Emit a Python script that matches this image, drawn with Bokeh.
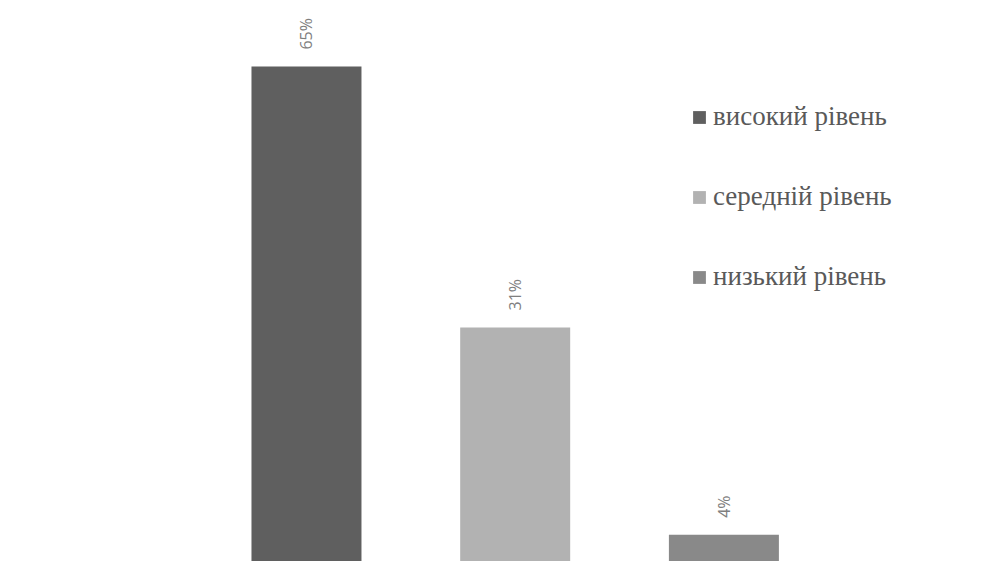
from bokeh.plotting import figure
from bokeh.models import ColumnDataSource, Range1d, LabelSet, Legend, LegendItem
from bokeh.core.properties import value
from bokeh.embed import file_html
from bokeh.resources import INLINE

levels = ["високий рівень", "середній рівень", "низький рівень"]
values = [65, 31, 4]
labels = ["65%", "31%", "4%"]
colors = ["#5f5f5f", "#b2b2b2", "#898989"]

src = ColumnDataSource(dict(x=[0, 1, 2], top=values, level=levels,
                            color=colors, label=labels))

p = figure(width=1006, height=561, output_backend="svg", toolbar_location=None,
           x_range=Range1d(-1.466, 3.354), y_range=Range1d(0.52, 73.6),
           min_border=0, outline_line_color=None)
p.axis.visible = False
p.grid.visible = False
p.background_fill_color = "white"

r = p.vbar(x="x", top="top", bottom=0, width=0.527, fill_color="color",
           line_color=None, source=src)

lbl = LabelSet(x="x", y="top", text="label", source=src, angle=1.5708,
               text_align="left", text_baseline="middle", y_offset=17,
               text_font=value("Open Sans"), text_font_size=value("16px"),
               text_color=value("#7f7f7f"))
p.add_layout(lbl)

items = [LegendItem(label=levels[i], renderers=[r], index=i) for i in range(3)]
legend = Legend(items=items, location=(691, 269), glyph_width=16, glyph_height=16,
                label_text_font="Liberation Serif", label_text_font_size="27px",
                label_text_color="#595959", spacing=49, padding=0, margin=0,
                label_standoff=6, border_line_color=None, background_fill_alpha=0)
p.add_layout(legend)

open("out.html", "w").write(file_html(p, INLINE))
